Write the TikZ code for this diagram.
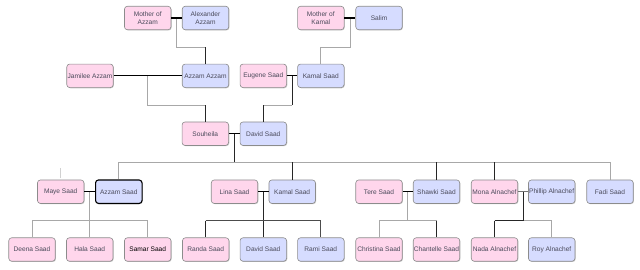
\documentclass[tikz,border=0pt]{standalone}
\usepackage{fontspec}
\setmainfont{Liberation Sans}
\usetikzlibrary{calc,shadows}
\definecolor{pinkf}{HTML}{FFD6EC}
\definecolor{bluef}{HTML}{D6DCFF}
\definecolor{bord}{HTML}{8C8C8C}
\definecolor{txt}{HTML}{4A4A5A}
\definecolor{lgray}{HTML}{A8A8A8}
\begin{document}
\begin{tikzpicture}[x=1pt,y=-1pt,
  person/.style={draw=bord, line width=0.6pt, rounded corners=3pt,
    minimum width=46.5pt, minimum height=23.5pt, inner sep=0.5pt,
    font=\fontsize{6.6}{8.5}\selectfont, text=txt, align=center,
    drop shadow={shadow xshift=0.7pt, shadow yshift=-0.7pt, fill=black!22, opacity=1}},
  female/.style={person, fill=pinkf},
  male/.style={person, fill=bluef},
  couple/.style={draw=black, line width=1.3pt},
  blk/.style={draw=black!85, line width=0.8pt},
  gry/.style={draw=lgray, line width=0.8pt}]
\useasboundingbox (0,0) rectangle (640,269);
% row 1
\node[female] (ma) at (147.7,18) {Mother of\\Azzam};
\node[male]   (aa) at (205.5,18) {Alexander\\Azzam};
\node[female] (mk) at (320.8,18) {Mother of\\Kamal};
\node[male]   (sa) at (379,18) {Salim};
% row 2
\node[female] (ja) at (90,75.8) {Jamilee Azzam};
\node[male]   (az) at (205.5,75.8) {Azzam Azzam};
\node[female] (eu) at (263.3,75.8) {Eugene Saad};
\node[male]   (ks) at (320.8,75.8) {Kamal Saad};
% row 3
\node[female] (so) at (205.3,133.7) {Souheila};
\node[male]   (ds) at (263.3,133.7) {David Saad};
% row 4
\node[female] (my) at (60.7,191.7) {Maye Saad};
\node[male, draw=black, line width=1.1pt] (as) at (118.8,191.7) {Azzam Saad};
\node[female] (li) at (234.5,191.7) {Lina Saad};
\node[male]   (k2) at (292.2,191.7) {Kamal Saad};
\node[female] (te) at (379,191.7) {Tere Saad};
\node[male]   (sh) at (436.5,191.7) {Shawki Saad};
\node[female] (mo) at (494.5,191.7) {Mona Alnachef};
\node[male]   (ph) at (551.7,191.7) {Phillip Alnachef};
\node[male]   (fa) at (610,191.7) {Fadi Saad};
% row 5
\node[female] (de) at (32,249.5) {Deena Saad};
\node[female] (ha) at (89.7,249.5) {Hala Saad};
\node[female, text=black] (sm) at (147.7,249.5) {Samar Saad};
\node[female] (ra) at (205.7,249.5) {Randa Saad};
\node[male]   (d2) at (263.3,249.5) {David Saad};
\node[male]   (rm) at (320.8,249.5) {Rami Saad};
\node[female] (ch) at (379,249.5) {Christina Saad};
\node[female] (ct) at (436.5,249.5) {Chantelle Saad};
\node[female] (na) at (494.5,249.5) {Nada Alnachef};
\node[male]   (ro) at (551.7,249.5) {Roy Alnachef};
% bar levels
\coordinate (b1) at (0,47.3);
\coordinate (b3) at (0,105.3);
\coordinate (b5) at (0,162.3);
\coordinate (b6) at (0,220.7);
\coordinate (stub) at (60.7,168.3);
% family: Mother of Azzam + Alexander Azzam
\coordinate (c1) at ($(ma.east)!0.5!(aa.west)$);
\draw[gry] (c1) |- (az.north |- b1);
\draw[blk] (az.north |- b1) -- (az.north);
\draw[couple] (ma.east) -- (aa.west);
% family: Mother of Kamal + Salim
\coordinate (c2) at ($(mk.east)!0.5!(sa.west)$);
\draw[gry] (c2) |- (ks.north |- b1) -- (ks.north);
\draw[couple] (mk.east) -- (sa.west);
% family: Jamilee + Azzam Azzam
\coordinate (c3) at ($(ja.east)!0.5!(az.west)$);
\draw[gry] (c3) |- (so.north |- b3);
\draw[blk] (so.north |- b3) -- (so.north);
\draw[couple] (ja.east) -- (az.west);
% family: Eugene + Kamal Saad
\coordinate (c4) at ($(eu.east)!0.5!(ks.west)$);
\draw[gry] (c4 |- b3) -- (ds.north |- b3);
\draw[blk] (c4) -- (c4 |- b3);
\draw[blk] (ds.north |- b3) -- (ds.north);
\draw[couple] (eu.east) -- (ks.west);
% family: Souheila + David Saad
\coordinate (c5) at ($(so.east)!0.5!(ds.west)$);
\draw[gry] (as.north |- b5) -- (fa.north |- b5);
\draw[gry] (as.north |- b5) -- (as.north);
\draw[gry] (fa.north |- b5) -- (fa.north);
\draw[blk] (c5) -- (c5 |- b5);
\draw[blk] (k2.north |- b5) -- (k2.north);
\draw[blk] (sh.north |- b5) -- (sh.north);
\draw[blk] (mo.north |- b5) -- (mo.north);
\draw[couple] (so.east) -- (ds.west);
% family: Maye + Azzam Saad
\draw[draw=black!18, line width=0.9pt, shorten <=1.5pt] (my.north) -- (stub);
\coordinate (c6) at ($(my.east)!0.5!(as.west)$);
\draw[gry] (c6) -- (c6 |- b6);
\draw[gry] (de.north |- b6) -- (sm.north |- b6);
\draw[gry] (de.north |- b6) -- (de.north);
\draw[gry] (ha.north |- b6) -- (ha.north);
\draw[gry] (sm.north |- b6) -- (sm.north);
\draw[couple] (my.east) -- (as.west);
% family: Lina + Kamal Saad
\coordinate (c7) at ($(li.east)!0.5!(k2.west)$);
\draw[blk] (c7) -- (c7 |- b6);
\draw[draw=black!70, line width=0.8pt] (ra.north |- b6) -- (rm.north |- b6);
\draw[blk] (ra.north |- b6) -- (ra.north);
\draw[blk] (d2.north |- b6) -- (d2.north);
\draw[draw=black!70, line width=0.8pt] (rm.north |- b6) -- (rm.north);
\draw[couple] (li.east) -- (k2.west);
% family: Tere + Shawki
\coordinate (c8) at ($(te.east)!0.5!(sh.west)$);
\draw[gry] (c8) -- (c8 |- b6);
\draw[gry] (ch.north |- b6) -- (ct.north |- b6);
\draw[gry] (ch.north |- b6) -- (ch.north);
\draw[blk] (ct.north |- b6) -- (ct.north);
\draw[couple] (te.east) -- (sh.west);
% family: Mona + Phillip
\coordinate (c9) at ($(mo.east)!0.5!(ph.west)$);
\draw[gry] (c9 |- b6) -- (ro.north |- b6) -- (ro.north);
\draw[blk] (c9) -- (c9 |- b6);
\draw[blk] (na.north |- b6) -- (c9 |- b6);
\draw[blk] (na.north |- b6) -- (na.north);
\draw[draw=black!55, line width=1pt] (mo.east) -- (ph.west);
\end{tikzpicture}
\end{document}
